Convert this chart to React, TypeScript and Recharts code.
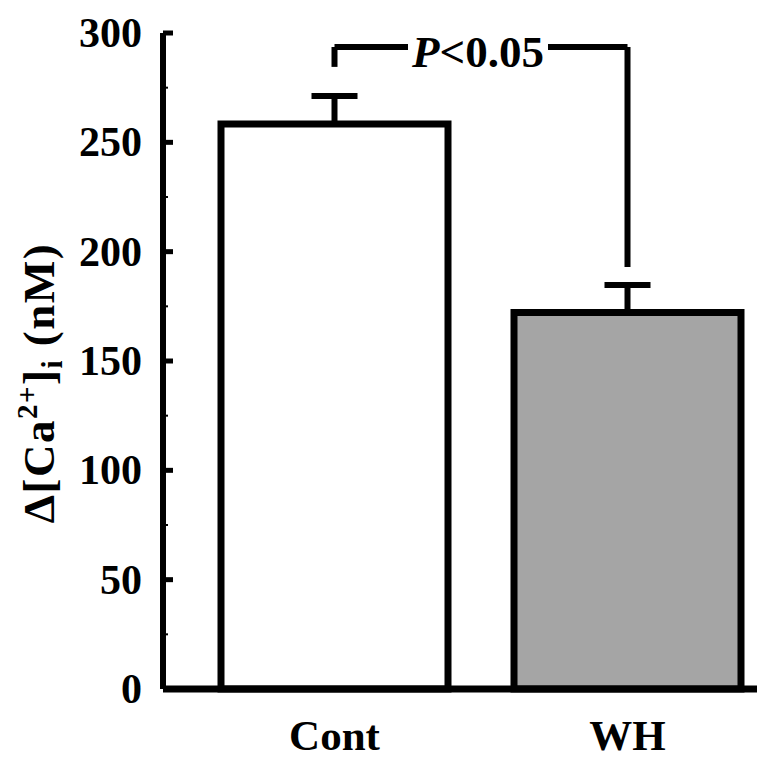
import { BarChart, Bar, XAxis, YAxis, Cell, ErrorBar, ReferenceLine } from 'recharts';

const groups = ['Cont', 'WH'];
const means = [258.4, 172.2];
const sems = [12.8, 12.6];
const fills = ['#ffffff', '#a5a5a5'];
const yTicks = [0, 25, 50, 75, 100, 125, 150, 175, 200, 225, 250, 275, 300];
const bracketTop = 293.6;
const bracketLeftEnd = 284.5;
const bracketRightEnd = 193;
const sigText = '<0.05';

const rows = groups.map((g, i) => ({ name: g, value: means[i], err: [0, sems[i]] }));

const FONT = '"Liberation Serif", "Times New Roman", serif';

const YTick = (props: any) => {
    const { x, y, payload } = props;
    const major = payload.value % 50 === 0;
    return (
        <g>
            <line x1={x} x2={x + (major ? 10 : 5)} y1={y} y2={y} stroke="#000" strokeWidth={major ? 5 : 2} />
            {major && (
                <text x={x - 21} y={y + 14} textAnchor="end" fontFamily={FONT} fontWeight="bold" fontSize={42} fill="#000">
                    {payload.value}
                </text>
            )}
        </g>
    );
};

const XTick = (props: any) => {
    const { x, y, payload } = props;
    return (
        <text x={x} y={y + 61} textAnchor="middle" fontFamily={FONT} fontWeight="bold" fontSize={43} fill="#000">
            {payload.value}
        </text>
    );
};

const YLabel = () => (
    <text x={54} y={383} transform="rotate(-90, 54, 383)" textAnchor="middle" fontFamily={FONT} fontWeight="bold" fontSize={45} letterSpacing={1.5} fill="#000">
        <tspan>Δ[Ca</tspan>
        <tspan fontSize={29} dy={-17}>2+</tspan>
        <tspan dy={17}>]</tspan>
        <tspan fontSize={29} dy={8}>i</tspan>
        <tspan dy={-8}> (nM)</tspan>
    </text>
);

const SigLabel = (props: any) => {
    const { viewBox } = props;
    const cx = viewBox.x + viewBox.width / 2 - 3;
    const cy = viewBox.y;
    return (
        <g>
            <rect x={cx - 70} y={cy - 8} width={140} height={16} fill="#fff" />
            <text x={cx} y={cy + 20} textAnchor="middle" fontFamily={FONT} fontWeight="bold" fontSize={45} fill="#000">
                <tspan fontStyle="italic">P</tspan>
                {sigText}
            </text>
        </g>
    );
};

export default function App() {
    return (
        <div style={{ position: 'absolute', left: 0, top: 0, width: 757, height: 759, overflow: 'hidden', background: '#fff' }}>
            <BarChart width={790} height={759} data={rows} margin={{ top: 33, right: 16, left: 0, bottom: 0 }}>
                <XAxis
                    dataKey="name"
                    height={70}
                    padding={{ left: 25, right: 0 }}
                    tickLine={false}
                    tickSize={0}
                    tickMargin={0}
                    axisLine={{ stroke: '#000', strokeWidth: 7 }}
                    tick={<XTick />}
                />
                <YAxis
                    width={163}
                    domain={[0, 300]}
                    ticks={yTicks}
                    interval={0}
                    tickLine={false}
                    tickSize={0}
                    tickMargin={0}
                    axisLine={{ stroke: '#000', strokeWidth: 6 }}
                    tick={<YTick />}
                    label={<YLabel />}
                />
                <Bar dataKey="value" barSize={227} stroke="#000" strokeWidth={7} isAnimationActive={false}>
                    {rows.map((r, i) => (
                        <Cell key={r.name} fill={fills[i]} />
                    ))}
                    <ErrorBar dataKey="err" direction="y" width={23} stroke="#000" strokeWidth={6} isAnimationActive={false} />
                </Bar>
                <ReferenceLine
                    segment={[{ x: 'Cont', y: bracketTop }, { x: 'WH', y: bracketTop }]}
                    stroke="#000"
                    strokeWidth={6}
                    label={<SigLabel />}
                />
                <ReferenceLine segment={[{ x: 'Cont', y: bracketTop }, { x: 'Cont', y: bracketLeftEnd }]} stroke="#000" strokeWidth={6} />
                <ReferenceLine segment={[{ x: 'WH', y: bracketTop }, { x: 'WH', y: bracketRightEnd }]} stroke="#000" strokeWidth={6} />
            </BarChart>
        </div>
    );
}
